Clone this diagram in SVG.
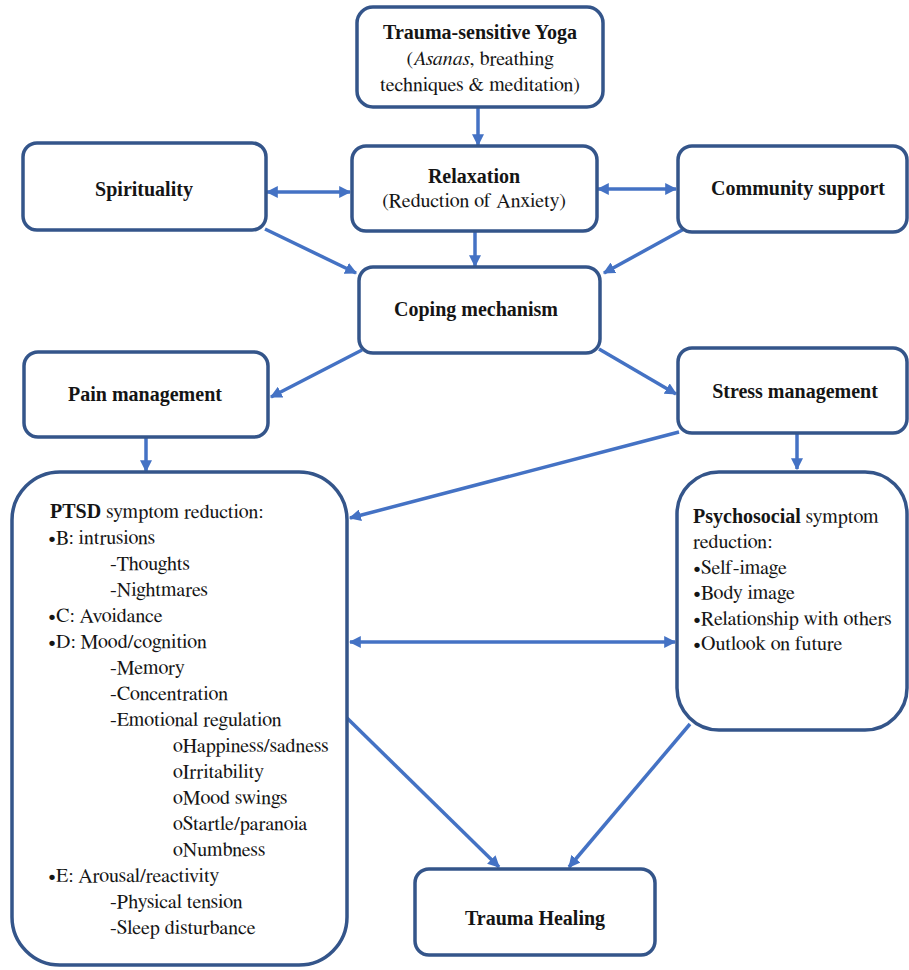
<svg xmlns="http://www.w3.org/2000/svg" width="909" height="970" viewBox="0 0 909 970">
<style>
.box{fill:#fff;stroke:#34558a;stroke-width:3.5}
.c{fill:none;stroke:#4472c4;stroke-width:3.5}
text{font-family:FreeSerif,"Liberation Serif",serif;font-size:20px;fill:#151515}
.b{font-weight:bold;font-family:"Liberation Serif",serif}
.m{text-anchor:middle}
</style>
<defs>
<marker id="ah" viewBox="0 0 10 10" refX="9" refY="5" markerWidth="12" markerHeight="12" markerUnits="userSpaceOnUse" orient="auto-start-reverse">
<path d="M0,0 L10,5 L0,10 Z" fill="#4472c4"/>
</marker>
</defs>
<rect width="909" height="970" fill="#fff"/>
<g id="connectors">
<line class="c" x1="478" y1="108" x2="478" y2="145" marker-end="url(#ah)"/>
<line class="c" x1="267" y1="192" x2="350" y2="192" marker-start="url(#ah)" marker-end="url(#ah)"/>
<line class="c" x1="598" y1="189" x2="676" y2="189" marker-start="url(#ah)" marker-end="url(#ah)"/>
<line class="c" x1="475" y1="231" x2="475" y2="266" marker-end="url(#ah)"/>
<line class="c" x1="265" y1="229" x2="356" y2="273" marker-end="url(#ah)"/>
<line class="c" x1="684" y1="229" x2="604" y2="273" marker-end="url(#ah)"/>
<line class="c" x1="362" y1="350" x2="271" y2="397" marker-end="url(#ah)"/>
<line class="c" x1="599" y1="349" x2="676" y2="394" marker-end="url(#ah)"/>
<line class="c" x1="146" y1="437" x2="146" y2="471" marker-end="url(#ah)"/>
<line class="c" x1="797" y1="433" x2="797" y2="469" marker-end="url(#ah)"/>
<line class="c" x1="679" y1="432" x2="350" y2="518" marker-end="url(#ah)"/>
<line class="c" x1="350" y1="642" x2="675" y2="642" marker-start="url(#ah)" marker-end="url(#ah)"/>
<line class="c" x1="347" y1="718" x2="499" y2="867" marker-end="url(#ah)"/>
<line class="c" x1="690" y1="724" x2="569" y2="867" marker-end="url(#ah)"/>
</g>
<g id="yoga">
<rect class="box" x="357" y="7" width="246" height="100" rx="16"/>
<text class="m b" x="480" y="39">Trauma-sensitive Yoga</text>
<text class="m" x="480" y="65">(<tspan font-style="italic">Asanas</tspan>, breathing</text>
<text class="m" x="480" y="91">techniques &amp; meditation)</text>
</g>
<g id="spirituality">
<rect class="box" x="23" y="143" width="243" height="87" rx="14"/>
<text class="m b" x="144" y="196">Spirituality</text>
</g>
<g id="relaxation">
<rect class="box" x="352" y="146" width="245" height="85" rx="14"/>
<text class="m b" x="474" y="183">Relaxation</text>
<text class="m" x="474" y="207">(Reduction of Anxiety)</text>
</g>
<g id="community">
<rect class="box" x="678" y="146" width="229" height="86" rx="14"/>
<text class="m b" x="798" y="195">Community support</text>
</g>
<g id="coping">
<rect class="box" x="359" y="267" width="241" height="86" rx="14"/>
<text class="m b" x="476" y="316">Coping mechanism</text>
</g>
<g id="pain">
<rect class="box" x="24" y="352" width="244" height="85" rx="14"/>
<text class="m b" x="145" y="401">Pain management</text>
</g>
<g id="stress">
<rect class="box" x="678" y="348" width="229" height="85" rx="14"/>
<text class="m b" x="795" y="398">Stress management</text>
</g>
<g id="ptsd">
<rect class="box" x="12" y="472" width="335" height="493" rx="48"/>
<text x="50" y="518"><tspan class="b">PTSD</tspan> symptom reduction:</text>
<text x="48" y="544">•B: intrusions</text>
<text x="110" y="570">-Thoughts</text>
<text x="110" y="596">-Nightmares</text>
<text x="48" y="622">•C: Avoidance</text>
<text x="48" y="648">•D: Mood/cognition</text>
<text x="110" y="674">-Memory</text>
<text x="110" y="700">-Concentration</text>
<text x="110" y="726">-Emotional regulation</text>
<text x="173" y="752">oHappiness/sadness</text>
<text x="173" y="778">oIrritability</text>
<text x="173" y="804">oMood swings</text>
<text x="173" y="830">oStartle/paranoia</text>
<text x="173" y="856">oNumbness</text>
<text x="48" y="882">•E: Arousal/reactivity</text>
<text x="110" y="908">-Physical tension</text>
<text x="110" y="934">-Sleep disturbance</text>
</g>
<g id="psychosocial">
<rect class="box" x="677" y="472" width="230" height="258" rx="42"/>
<text x="693" y="523"><tspan class="b">Psychosocial</tspan> symptom</text>
<text x="693" y="548">reduction:</text>
<text x="693" y="574">•Self-image</text>
<text x="693" y="599">•Body image</text>
<text x="693" y="625">•Relationship with others</text>
<text x="693" y="650">•Outlook on future</text>
</g>
<g id="healing">
<rect class="box" x="415" y="869" width="240" height="86" rx="14"/>
<text class="m b" x="535" y="925">Trauma Healing</text>
</g>
</svg>
